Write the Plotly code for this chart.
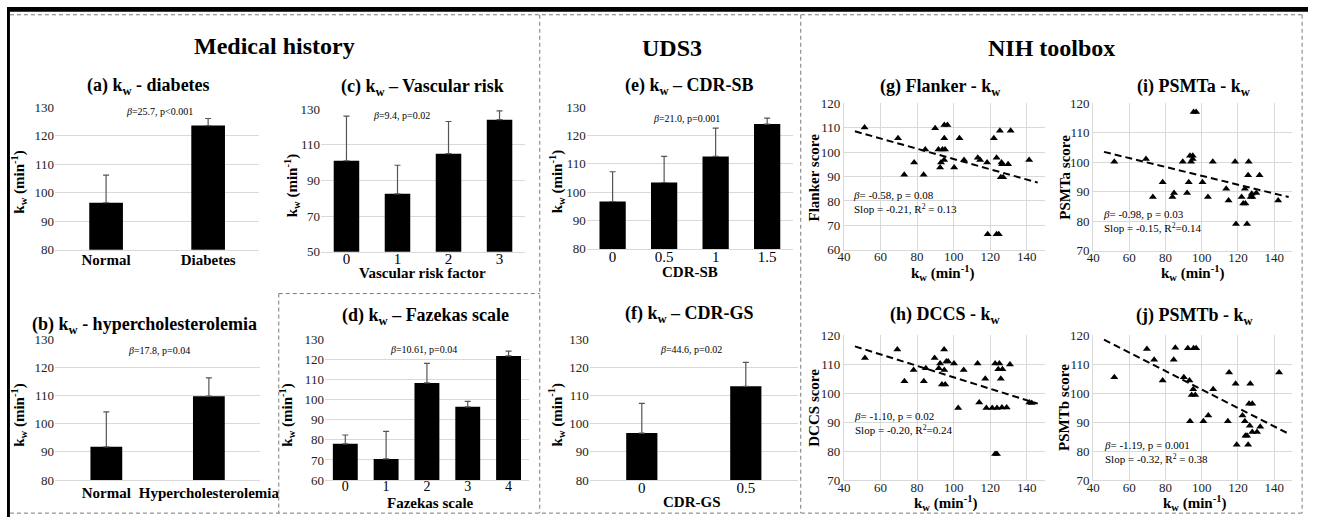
import plotly.graph_objects as go

W, H = 1326, 525
FONT = "Liberation Serif, Times New Roman, serif"

# ---------------- data ----------------
a_cats = ["Normal", "Diabetes"]
a_mean = [96.5, 123.5]
a_err = [9.7, 2.5]

b_cats = ["Normal", "Hypercholesterolemia"]
b_mean = [91.8, 109.8]
b_err = [12.4, 6.5]

c_cats = ["0", "1", "2", "3"]
c_mean = [101.0, 82.5, 105.0, 124.0]
c_err = [25.0, 16.0, 18.0, 5.0]

d_cats = ["0", "1", "2", "3", "4"]
d_mean = [78.0, 70.5, 108.3, 96.4, 121.7]
d_err = [4.4, 13.7, 9.7, 2.7, 2.4]

e_cats = ["0", "0.5", "1", "1.5"]
e_mean = [96.7, 103.4, 112.6, 124.0]
e_err = [10.5, 9.2, 10.0, 2.1]

f_cats = ["0", "0.5"]
f_mean = [96.7, 113.3]
f_err = [10.5, 8.5]

g_x = [51.3, 69.6, 73.0, 78.4, 83.6, 84.5, 89.9, 91.7, 92.6, 93.1, 93.9, 94.9, 96.6, 94.9, 95.3,
       94.8, 100.3, 103.2, 105.7, 113.2, 114.5, 118.3, 122.0, 123.5, 125.3, 126.2, 126.5, 125.8,
       127.1, 129.8, 131.2, 141.3, 118.6, 123.5, 124.7]
g_y = [110.0, 105.7, 90.7, 95.7, 90.7, 101.1, 109.7, 101.1, 93.7, 95.7, 101.1, 111.1, 111.1, 105.7, 101.1,
       96.8, 93.7, 105.7, 96.8, 97.7, 96.8, 95.7, 105.7, 97.7, 108.7, 95.7, 95.0, 89.7,
       89.7, 95.0, 108.7, 96.8, 66.4, 66.4, 66.4]
g_fit_x = [46, 146]
g_fit_y = [108.5, 87.5]

h_x = [51.5, 69.2, 73.1, 78.1, 83.7, 84.8, 89.6, 91.9, 92.6, 93.6, 94.9, 95.4, 94.8, 96.0, 97.0,
       100.2, 102.5, 105.5, 113.1, 114.0, 117.3, 117.9, 121.1, 122.7, 123.7, 124.4, 125.0, 125.8,
       126.4, 126.7, 129.0, 130.8, 122.7, 123.7, 141.4, 142.7]
h_y = [112.2, 115.1, 104.1, 108.0, 104.1, 108.6, 112.2, 108.6, 110.3, 103.0, 108.0, 103.0, 115.1, 111.0, 111.0,
       110.3, 94.9, 108.0, 110.3, 96.8, 105.0, 94.9, 94.9, 110.3, 94.9, 108.3, 110.3, 105.0,
       95.1, 108.3, 95.1, 109.9, 79.0, 79.0, 96.8, 96.6]
h_fit_x = [46, 146]
h_fit_y = [116.2, 96.4]

i_x = [51.7, 69.2, 73.0, 78.4, 83.8, 84.7, 89.5, 91.9, 92.8, 93.5, 95.0, 94.1, 95.0, 95.5, 96.9,
       100.4, 103.4, 106.1, 113.5, 114.8, 118.4, 118.9, 122.0, 123.8, 124.1, 125.0, 125.6, 125.9,
       127.0, 127.6, 127.9, 130.1, 131.9, 142.2, 122.9]
i_y = [100.2, 101.1, 88.2, 93.2, 88.2, 89.6, 100.2, 89.6, 93.2, 102.2, 102.2, 100.2, 101.1, 117.0, 117.0,
       93.2, 88.2, 100.2, 91.0, 87.0, 100.2, 79.1, 88.2, 91.0, 86.0, 79.1, 95.6, 100.2,
       88.2, 89.3, 88.2, 89.6, 95.6, 87.0, 86.0]
i_fit_x = [46, 148]
i_fit_y = [103.5, 88.2]

j_x = [51.7, 69.7, 73.7, 78.4, 84.5, 85.4, 90.1, 92.3, 93.2, 93.5, 94.4, 95.3, 95.5, 96.9, 96.4,
       100.9, 103.6, 106.3, 114.4, 115.1, 118.7, 119.3, 122.5, 123.8, 124.1, 125.0, 125.6, 126.1,
       126.5, 126.8, 127.9, 127.9, 130.5, 132.3, 142.7]
j_y = [105.5, 115.3, 111.6, 104.4, 111.6, 115.7, 105.5, 115.5, 104.4, 90.3, 99.4, 101.4, 115.5, 115.5, 99.4,
       90.3, 92.3, 101.4, 90.3, 107.2, 103.3, 82.2, 92.3, 90.3, 85.3, 85.3, 82.2, 96.4,
       88.8, 103.3, 96.4, 86.6, 86.6, 88.4, 107.2]
j_fit_x = [46, 148]
j_fit_y = [118.5, 86.0]

# ---------------- helpers ----------------
def px(x):
    return x / W

def py(y):
    return 1 - y / H

fig = go.Figure()
layout = dict(
    width=W, height=H, autosize=False,
    margin=dict(l=0, r=0, t=0, b=0),
    paper_bgcolor="white", plot_bgcolor="white",
    showlegend=False,
    font=dict(family=FONT, size=13, color="#000000"),
)
annotations = []
shapes = []

GRID = "#d9d9d9"
TICKC = "#222222"

def add_ann(text, x, y, size, xanchor="center", angle=0, align="center"):
    annotations.append(dict(
        text=text, x=px(x), y=py(y), xref="paper", yref="paper",
        xanchor=xanchor, yanchor="middle", showarrow=False, textangle=angle,
        align=align, font=dict(family=FONT, size=size, color="#000000")))

bar_panels = [
    # idx, cats, mean, err, box(x0,x1,y0,y1), yrange, dtick, barwidth, bold x ticks, standoff, tick size
    (1, a_cats, a_mean, a_err, (49, 257, 103, 250), [80, 130], 10, 0.33, True, -4, 15),
    (2, b_cats, b_mean, b_err, (49, 258, 342, 487), [80, 130], 10, 0.31, True, -1, 15),
    (3, c_cats, c_mean, c_err, (320, 528, 105, 252), [50, 130], 20, 0.5, False, -7, 15),
    (4, d_cats, d_mean, d_err, (324, 532, 342, 487), [60, 130], 10, 0.61, False, -7, 14),
    (5, e_cats, e_mean, e_err, (591, 801, 103, 249), [80, 130], 10, 0.51, False, -6, 15),
    (6, f_cats, f_mean, f_err, (594, 806, 342, 487), [80, 130], 10, 0.3, False, -6, 15),
]

for idx, cats, mean, err, box, yr, dt, bw, boldx, so, ts in bar_panels:
    x0, x1, y0, y1 = box
    xa = "x" if idx == 1 else f"x{idx}"
    ya = "y" if idx == 1 else f"y{idx}"
    fig.add_trace(go.Bar(
        x=cats, y=mean, xaxis=xa, yaxis=ya, width=bw,
        marker=dict(color="#000000", line=dict(width=0)),
        error_y=dict(type="data", array=err, arrayminus=[0] * len(err), symmetric=False,
                     color="#555555", thickness=1.2, width=3),
        hoverinfo="skip"))
    key = "" if idx == 1 else str(idx)
    if boldx:
        ticktext = [f"<b>{c}</b>" for c in cats]
    else:
        ticktext = cats
    tfont = dict(family=FONT, size=ts, color="#000000")
    layout["xaxis" + key] = dict(
        domain=[px(x0), px(x1)], anchor=ya, type="category",
        tickmode="array", tickvals=cats, ticktext=ticktext,
        showgrid=False, zeroline=False, showline=True, linecolor=GRID, linewidth=1,
        ticks="", tickfont=tfont, ticklabelstandoff=so, fixedrange=True)
    layout["yaxis" + key] = dict(
        domain=[py(y1), py(y0)], anchor=xa, range=yr, dtick=dt, tick0=yr[0],
        showgrid=True, gridcolor=GRID, gridwidth=1, zeroline=False, showline=False,
        ticks="", tickfont=dict(family=FONT, size=13, color=TICKC), fixedrange=True)

scatter_panels = [
    (7, g_x, g_y, g_fit_x, g_fit_y, (853, 1058, 99, 250), [60, 120]),
    (8, h_x, h_y, h_fit_x, h_fit_y, (853, 1058, 338, 487), [70, 120]),
    (9, i_x, i_y, i_fit_x, i_fit_y, (1107, 1310, 99, 251), [70, 120]),
    (10, j_x, j_y, j_fit_x, j_fit_y, (1107, 1310, 338, 487), [70, 120]),
]

for idx, xs, ys, fx, fy, box, yr in scatter_panels:
    x0, x1, y0, y1 = box
    xa, ya = f"x{idx}", f"y{idx}"
    fig.add_trace(go.Scatter(
        x=fx, y=fy, xaxis=xa, yaxis=ya, mode="lines",
        line=dict(color="#000000", width=2, dash="7px,4px"), hoverinfo="skip"))
    fig.add_trace(go.Scatter(
        x=xs, y=ys, xaxis=xa, yaxis=ya, mode="markers",
        marker=dict(symbol="triangle-up", size=7, color="#000000"), hoverinfo="skip"))
    key = str(idx)
    layout["xaxis" + key] = dict(
        domain=[px(x0), px(x1)], anchor=ya, range=[40, 150], dtick=20, tick0=40,
        showgrid=True, gridcolor=GRID, zeroline=False, showline=True, linecolor=GRID,
        ticks="", tickfont=dict(family=FONT, size=13, color=TICKC),
        ticklabelstandoff=-5, fixedrange=True)
    layout["yaxis" + key] = dict(
        domain=[py(y1), py(y0)], anchor=xa, range=yr, dtick=10, tick0=yr[0],
        showgrid=True, gridcolor=GRID, zeroline=False, showline=True, linecolor=GRID,
        ticks="", tickfont=dict(family=FONT, size=13, color=TICKC), fixedrange=True)

# ---------------- text ----------------
KW = "k<sub>w</sub>"
YT = f"<b>{KW} (min<sup>-1</sup>)</b>"

add_ann("<b>Medical history</b>", 273, 40, 24)
add_ann("<b>UDS3</b>", 678, 42, 24)
add_ann("<b>NIH toolbox</b>", 1065, 42, 24)

add_ann(f"<b>(a) {KW} - diabetes</b>", 144, 82, 18)
add_ann(f"<b>(b) {KW} - hypercholesterolemia</b>", 140, 328, 18)
add_ann(f"<b>(c) {KW} – Vascular risk</b>", 423, 83, 18)
add_ann(f"<b>(d) {KW} – Fazekas scale</b>", 427, 319, 18)
add_ann(f"<b>(e) {KW} – CDR-SB</b>", 696, 82, 18)
add_ann(f"<b>(f) {KW} – CDR-GS</b>", 696, 317, 18)
add_ann(f"<b>(g) Flanker - {KW}</b>", 951, 83, 18)
add_ann(f"<b>(i) PSMTa - {KW}</b>", 1210, 83, 18)
add_ann(f"<b>(h) DCCS - {KW}</b>", 957, 318, 18)
add_ann(f"<b>(j) PSMTb - {KW}</b>", 1211, 319, 18)

for x, y in [(12, 180), (12, 420), (290, 184), (285, 420), (560, 180), (560, 420)]:
    add_ann(YT, x, y, 15, angle=-90)
add_ann("<b>Flanker score</b>", 823, 175, 15, angle=-90)
add_ann("<b>DCCS score</b>", 823, 412, 15, angle=-90)
add_ann("<b>PSMTa score</b>", 1078, 175, 15, angle=-90)
add_ann("<b>PSMTb score</b>", 1078, 412, 15, angle=-90)

add_ann("<b>Vascular risk factor</b>", 423, 274, 15)
add_ann("<b>Fazekas scale</b>", 432, 511, 15)
add_ann("<b>CDR-SB</b>", 696, 273, 15)
add_ann("<b>CDR-GS</b>", 698, 510, 15)
XT = f"<b>{KW} (min<sup>-1</sup>)</b>"
add_ann(XT, 953, 274, 15)
add_ann(XT, 1208, 274, 15)
add_ann(XT, 957, 511, 15)
add_ann(XT, 1210, 511, 15)

add_ann("<i>β</i>=25.7, p&lt;0.001", 155, 108, 10)
add_ann("<i>β</i>=17.8, p=0.04", 155, 354, 10)
add_ann("<i>β</i>=9.4, p=0.02", 402, 112, 10)
add_ann("<i>β</i>=10.61, p=0.04", 425, 353, 10)
add_ann("<i>β</i>=21.0, p=0.001", 693, 115, 10)
add_ann("<i>β</i>=44.6, p=0.02", 697, 353, 10)

add_ann("<i>β</i>= -0.58, p = 0.08<br>Slop = -0.21, R<sup>2</sup> = 0.13", 860, 201, 11, xanchor="left", align="left")
add_ann("<i>β</i>= -0.98, p = 0.03<br>Slop = -0.15, R<sup>2</sup>=0.14", 1115, 220, 11, xanchor="left", align="left")
add_ann("<i>β</i>= -1.10, p = 0.02<br>Slop = -0.20, R<sup>2</sup>=0.24", 861, 428, 11, xanchor="left", align="left")
add_ann("<i>β</i>= -1.19, p = 0.001<br>Slop = -0.32, R<sup>2</sup> = 0.38", 1116, 458, 11, xanchor="left", align="left")

# ---------------- frames ----------------
def pline(xa0, ya0, xa1, ya1, color="#7a7a7a", width=1, dash="4px,3px"):
    shapes.append(dict(type="line", xref="paper", yref="paper",
                       x0=px(xa0), y0=py(ya0), x1=px(xa1), y1=py(ya1),
                       line=dict(color=color, width=width, dash=dash)))

shapes.append(dict(type="rect", xref="paper", yref="paper", x0=0, x1=1, y0=py(5), y1=1,
                   fillcolor="#000000", line=dict(width=0)))
shapes.append(dict(type="rect", xref="paper", yref="paper", x0=0, x1=px(3), y0=0, y1=1,
                   fillcolor="#000000", line=dict(width=0)))
pline(3, 8, 1320, 8)
pline(3, 521, 1320, 521)
pline(543, 8, 543, 521)
pline(809, 8, 809, 521)
pline(1320, 8, 1320, 521)
pline(277, 295, 543, 295)
pline(277, 295, 277, 521)

layout["annotations"] = annotations
layout["shapes"] = shapes
fig.update_layout(**layout)
fig.write_html("out.html")
